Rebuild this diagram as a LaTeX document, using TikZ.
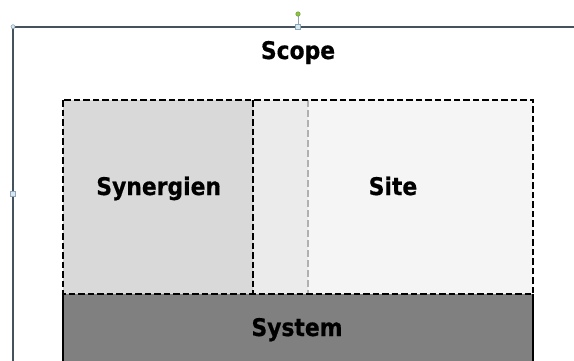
\documentclass[tikz,border=0pt]{standalone}
\usepackage{fontspec}
\setmainfont{DejaVu Sans Condensed}[BoldFeatures={FakeBold=0.6}]
\definecolor{synfill}{HTML}{D9D9D9}
\definecolor{midfill}{HTML}{EBEBEB}
\definecolor{sitefill}{HTML}{F5F5F5}
\definecolor{sysfill}{HTML}{808080}
\definecolor{scopeline}{HTML}{44525E}
\definecolor{handlefill}{HTML}{D6E8F2}
\definecolor{handleline}{HTML}{8FA6B8}
\definecolor{rotgreen}{HTML}{8CC63F}
\definecolor{graydash}{HTML}{B0B0B0}
\tikzset{
  lbl/.style={font=\fontsize{24.3}{28}\selectfont\bfseries, text=black, inner sep=0pt, anchor=base},
  blackdash/.style={draw=black, line width=2.4pt, dash pattern=on 6.5pt off 3pt},
  greydash/.style={draw=graydash, line width=2.4pt, dash pattern=on 7pt off 3pt},
  scopeedge/.style={draw=scopeline, line width=2.4pt},
  handle/.style={draw=handleline, fill=handlefill, line width=0.6pt, minimum size=4.5pt, inner sep=0pt},
}
\begin{document}
\begin{tikzpicture}[x=1pt,y=-1pt]
\useasboundingbox (0,0) rectangle (574,360);
\fill[white] (0,0) rectangle (574,360);
% coordinates
\coordinate (tl) at (63,100);
\coordinate (tr) at (533,100);
\coordinate (bl) at (63,294);
\coordinate (br) at (533,294);
\coordinate (m1t) at (253,100);
\coordinate (m1b) at (253,294);
\coordinate (m2t) at (308,100);
\coordinate (m2b) at (308,294);
\coordinate (sysbl) at (63,362);
\coordinate (sysbr) at (533,362);
% fills
\fill[synfill] (tl) rectangle (m1b);
\fill[midfill] (m1t) rectangle (m2b);
\fill[sitefill] (m2t) rectangle (br);
\fill[sysfill] (bl) rectangle (sysbr);
% system side borders
\draw[black, line width=2.4pt] (bl) -- (sysbl);
\draw[black, line width=2.4pt] (br) -- (sysbr);
% dashed lines
\draw[greydash] (m2t) -- (m2b);
\draw[blackdash] (m1t) -- (m1b);
\draw[blackdash] (tl) rectangle (br);
% labels
\node[lbl] (scope) at (298,59) {Scope};
\node[lbl] (syn) at (158.7,195) {Synergien};
\node[lbl] (site) at (393,195) {Site};
\node[lbl] (sys) at (297,336) {System};
% scope outline (selected shape)
\coordinate (sc) at (13,26.7);
\coordinate (sctr) at (576,26.7);
\coordinate (scbl) at (13,362);
\draw[scopeedge] (sctr) -- (sc) -- (scbl);
% selection handles
\coordinate (rot) at (298,14);
\coordinate (topmid) at (298,26.7);
\draw[handleline, line width=0.8pt] (rot) -- (topmid);
\node[handle, circle, minimum size=4pt] (h1) at (sc) {};
\node[handle] (h2) at (topmid) {};
\node[handle] (h3) at (13,194) {};
\node[circle, fill=rotgreen, draw=rotgreen!70!black, line width=0.4pt, minimum size=4.5pt, inner sep=0pt] (hr) at (rot) {};
\end{tikzpicture}
\end{document}
